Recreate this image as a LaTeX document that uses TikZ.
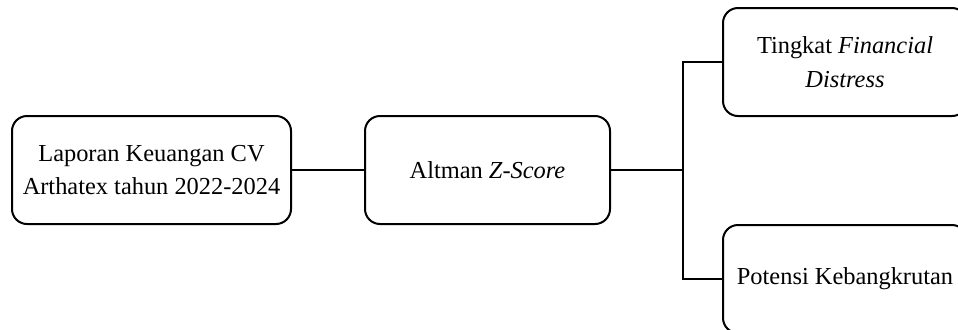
\documentclass[tikz,border=0pt]{standalone}
\usepackage{fontspec}
\setmainfont{Liberation Serif}
\begin{document}
\begin{tikzpicture}[x=0.5pt,y=-0.5pt,
    kotak/.style={draw,line width=1pt,rounded corners=7.5pt,align=center,
        minimum height=54pt,inner sep=0pt,
        font=\fontsize{12.2}{16.8}\selectfont}]
    \useasboundingbox (0,0) rectangle (958,329);
    \node[kotak,minimum width=139.5pt] (lap) at (151.5,170) {Laporan Keuangan CV\\Arthatex tahun 2022-2024};
    \node[kotak,minimum width=122.5pt] (alt) at (487.5,170) {Altman \textit{Z-Score}};
    \node[kotak,minimum width=122pt] (fin) at (845,62) {Tingkat \textit{Financial}\\\textit{Distress}};
    \node[kotak,minimum width=122pt] (pot) at (845,279) {Potensi Kebangkrutan};
    % titik cabang
    \coordinate (cab) at (683,170);
    \draw[line width=1pt] (lap) -- (alt);
    \draw[line width=1pt] (alt) -- (cab);
    \draw[line width=1pt] (cab) |- (fin.west);
    \draw[line width=1pt] (cab) |- (pot.west);
\end{tikzpicture}
\end{document}
